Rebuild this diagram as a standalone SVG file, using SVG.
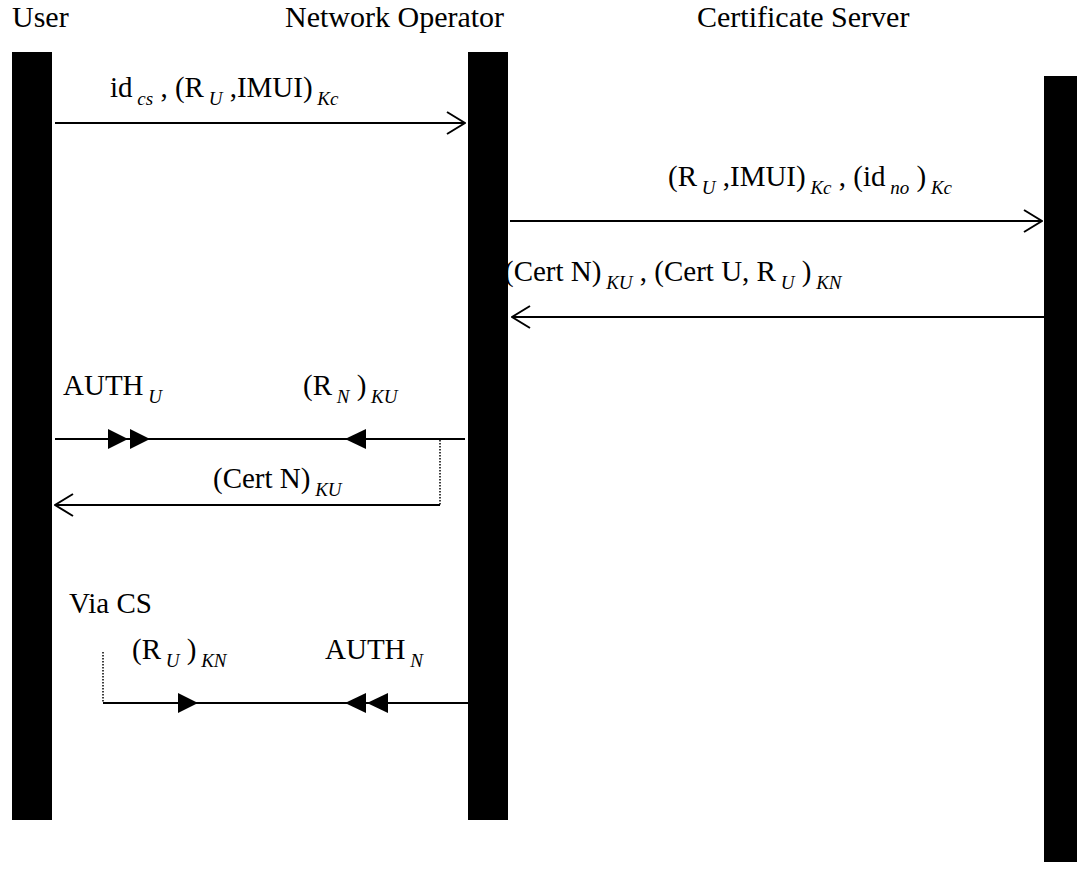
<svg xmlns="http://www.w3.org/2000/svg" width="1077" height="893" viewBox="0 0 1077 893">
  <defs>
    <style>
      text { font-family: "Liberation Serif", "Times New Roman", serif; font-size: 29px; fill: #000; }
      .title { font-size: 30px; }
      .sub { font-style: italic; font-size: 19px; }
      .msg { stroke: #000; stroke-width: 2; fill: none; }
      .dot { stroke: #000; stroke-width: 1.5; stroke-dasharray: 1.5 1.5; fill: none; }
      .bar { fill: #000; }
      .head { fill: #000; }
    </style>
    <marker id="open" viewBox="0 0 20 24" refX="19" refY="12" markerWidth="20" markerHeight="24" markerUnits="userSpaceOnUse" orient="auto">
      <path d="M1,1 L19,12 L1,23" fill="none" stroke="#000" stroke-width="2"/>
    </marker>
  </defs>

  <!-- participants -->
  <g id="user">
    <text class="title" x="12" y="27">User</text>
    <rect class="bar" x="12" y="52" width="40" height="768"/>
  </g>
  <g id="network-operator">
    <text class="title" x="285" y="27">Network Operator</text>
    <rect class="bar" x="468" y="52" width="40" height="768"/>
  </g>
  <g id="certificate-server">
    <text class="title" x="697" y="27">Certificate Server</text>
    <rect class="bar" x="1044" y="76" width="40" height="786"/>
  </g>

  <!-- messages -->
  <g id="connectors">
    <line class="msg" x1="55" y1="123" x2="465" y2="123" marker-end="url(#open)"/>
    <line class="msg" x1="510" y1="221" x2="1042" y2="221" marker-end="url(#open)"/>
    <line class="msg" x1="1044" y1="317" x2="512" y2="317" marker-end="url(#open)"/>

    <line class="msg" x1="55" y1="439" x2="465" y2="439"/>
    <polygon class="head" points="108,429 128,439 108,449"/>
    <polygon class="head" points="130,429 150,439 130,449"/>
    <polygon class="head" points="366,429 345,439 366,449"/>
    <line class="dot" x1="440" y1="440" x2="440" y2="505"/>
    <line class="msg" x1="440" y1="505" x2="55" y2="505" marker-end="url(#open)"/>

    <line class="dot" x1="103" y1="652" x2="103" y2="703"/>
    <line class="msg" x1="103" y1="703" x2="468" y2="703"/>
    <polygon class="head" points="178,693 198,703 178,713"/>
    <polygon class="head" points="366,693 345,703 366,713"/>
    <polygon class="head" points="388,693 367,703 388,713"/>
  </g>

  <!-- message labels -->
  <g id="labels">
    <text x="110" y="97">id<tspan class="sub" dy="8"> cs</tspan><tspan dy="-8"> , (R</tspan><tspan class="sub" dy="8"> U</tspan><tspan dy="-8"> ,IMUI)</tspan><tspan class="sub" dy="8"> Kc</tspan></text>
    <text x="668" y="186">(R<tspan class="sub" dy="8"> U</tspan><tspan dy="-8"> ,IMUI)</tspan><tspan class="sub" dy="8"> Kc</tspan><tspan dy="-8"> , (id</tspan><tspan class="sub" dy="8"> no</tspan><tspan dy="-8"> )</tspan><tspan class="sub" dy="8"> Kc</tspan></text>
    <text x="504" y="281">(Cert N)<tspan class="sub" dy="8"> KU</tspan><tspan dy="-8"> , (Cert U, R</tspan><tspan class="sub" dy="8"> U</tspan><tspan dy="-8"> )</tspan><tspan class="sub" dy="8"> KN</tspan></text>
    <text x="63" y="395">AUTH<tspan class="sub" dy="8"> U</tspan></text>
    <text x="303" y="395">(R<tspan class="sub" dy="8"> N</tspan><tspan dy="-8"> )</tspan><tspan class="sub" dy="8"> KU</tspan></text>
    <text x="213" y="488">(Cert N)<tspan class="sub" dy="8"> KU</tspan></text>
    <text x="69" y="613">Via CS</text>
    <text x="132" y="659">(R<tspan class="sub" dy="8"> U</tspan><tspan dy="-8"> )</tspan><tspan class="sub" dy="8"> KN</tspan></text>
    <text x="325" y="659">AUTH<tspan class="sub" dy="8"> N</tspan></text>
  </g>
</svg>
